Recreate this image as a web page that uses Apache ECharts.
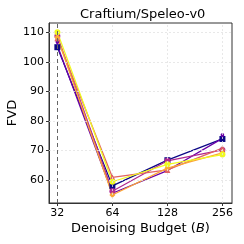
<!DOCTYPE html>
<html><head><meta charset="utf-8">
<script src="https://cdn.jsdelivr.net/npm/echarts@6/dist/echarts.min.js"></script>
<style>html,body{margin:0;padding:0;background:#fff}#c{width:244px;height:244px}</style>
</head><body><div id="c"></div>
<script>
const budgets = [32, 64, 128, 256];
const xTicks = [32, 64, 128, 256];
const yTicks = [60, 70, 80, 90, 100, 110];
const seriesNames = ['s1', 's2', 's3', 's4', 's5', 's6'];
const darkBlue = [105.0, 58.0, 66.7, 73.9];
const purple   = [105.6, 55.5, 63.2, 74.1];
const magenta  = [108.8, 56.2, 66.5, 70.2];
const salmon   = [108.0, 60.9, 63.4, 70.8];
const orange   = [108.4, 54.9, 64.0, 69.2];
const yellow   = [110.1, 59.4, 65.3, 68.6];
const colors = ['#0d0887', '#6a00a8', '#b12a90', '#e16462', '#fca636', '#f0f921'];
const symbols = ['rect', 'pin', 'circle', 'triangle', 'diamond', 'circle'];
const allData = [darkBlue, purple, magenta, salmon, orange, yellow];

const lg = v => Math.log2(v);
const series = allData.map((arr, i) => ({
  name: seriesNames[i], type: 'line',
  data: arr.map((v, j) => [lg(budgets[j]), v]),
  lineStyle: {color: colors[i], width: 1.3},
  itemStyle: {color: colors[i]},
  symbol: symbols[i], symbolSize: 6, z: 3
}));
const gridStyle = {color: '#e2e2e2', type: [2, 2], width: 0.8};
series.push({
  type: 'line', data: [], silent: true, z: 1,
  markLine: {symbol: 'none', silent: true, label: {show: false}, animation: false,
    lineStyle: gridStyle,
    data: xTicks.slice(1).map(t => ({xAxis: lg(t)})).concat(yTicks.map(t => ({yAxis: t})))}
});
series.push({
  type: 'line', data: [], silent: true, z: 2,
  markLine: {symbol: 'none', silent: true, label: {show: false}, animation: false,
    lineStyle: {color: '#666', type: [4, 3], width: 1},
    data: [{xAxis: lg(32)}]}
});

const chart = echarts.init(document.getElementById('c'));
chart.setOption({
  animation: false,
  title: {text: 'Craftium/Speleo-v0', left: 80, top: 8, padding: 0,
    textStyle: {fontFamily: 'DejaVu Sans', fontSize: 13, fontWeight: 'normal', color: '#000'}},
  grid: {left: 49, right: 12, top: 23, bottom: 41, show: true, borderColor: '#333', borderWidth: 1,
    outerBoundsMode: 'none', containLabel: false},
  xAxis: {type: 'value', min: 4.848, max: 8.174,
    name: 'Denoising Budget ({i|B})', nameLocation: 'middle', nameGap: 19, nameMoveOverlap: false,
    nameTextStyle: {fontFamily: 'DejaVu Sans', fontSize: 13, color: '#000',
      rich: {i: {fontStyle: 'italic', fontFamily: 'DejaVu Sans', fontSize: 13}}},
    axisLine: {lineStyle: {color: '#333'}},
    axisTick: {customValues: xTicks.map(lg), length: 3, lineStyle: {color: '#333'}},
    axisLabel: {customValues: xTicks.map(lg), formatter: v => String(Math.round(Math.pow(2, v))),
      fontFamily: 'DejaVu Sans', fontSize: 11, color: '#000', margin: 5},
    splitLine: {show: false}
  },
  yAxis: {type: 'value', min: 52.2, max: 113.2,
    name: 'FVD', nameLocation: 'middle', nameGap: 30, nameRotate: 90, nameMoveOverlap: false,
    nameTextStyle: {fontFamily: 'DejaVu Sans', fontSize: 13, color: '#000'},
    axisLine: {show: true, lineStyle: {color: '#333'}},
    axisTick: {show: true, customValues: yTicks, length: 3, lineStyle: {color: '#333'}},
    axisLabel: {customValues: yTicks, fontFamily: 'DejaVu Sans', fontSize: 11, color: '#000', margin: 5},
    splitLine: {show: false}
  },
  series: series
});
</script></body></html>
